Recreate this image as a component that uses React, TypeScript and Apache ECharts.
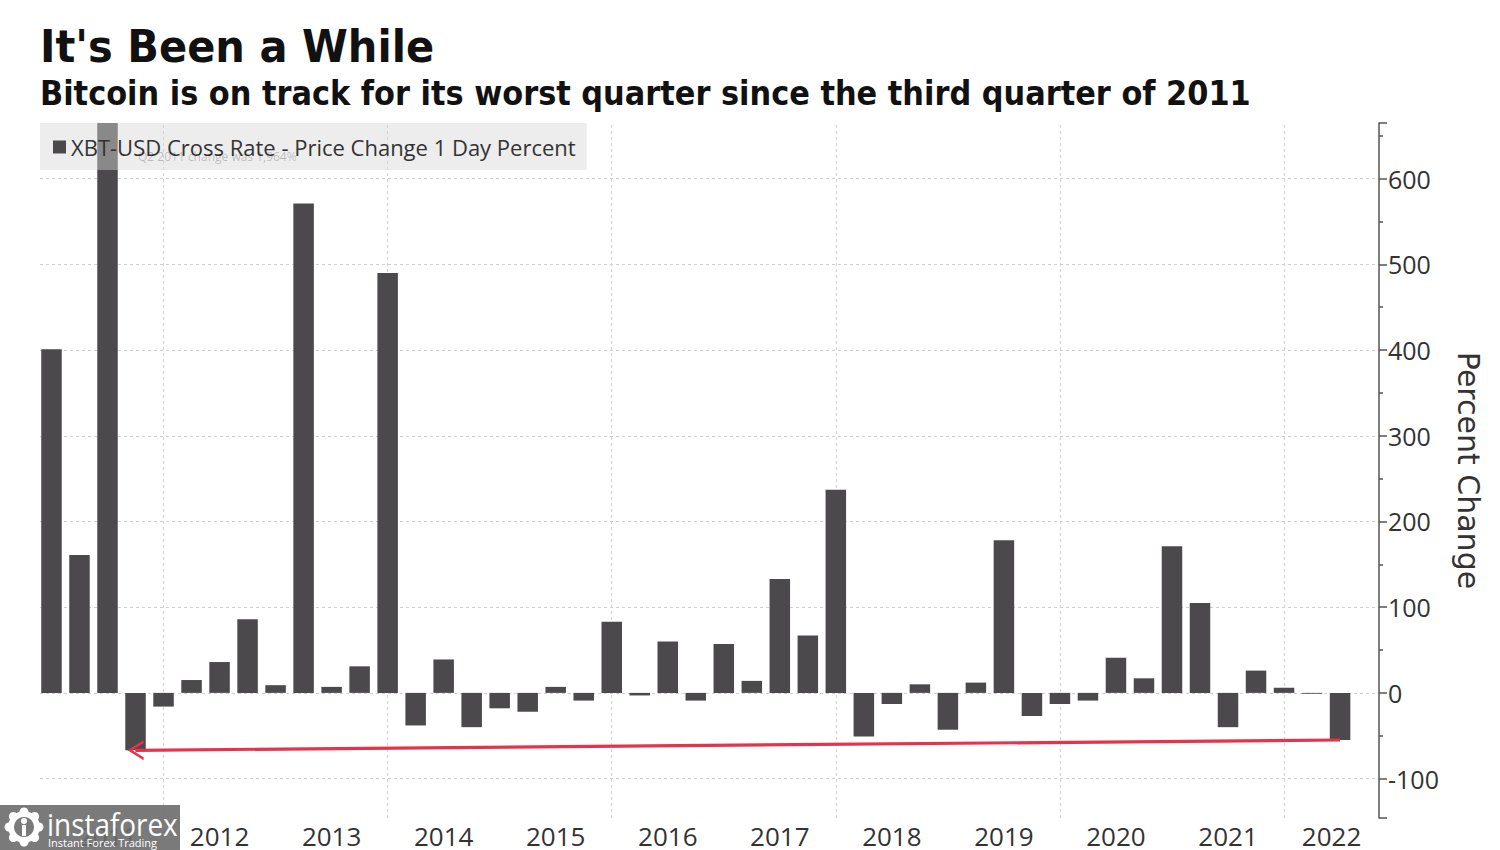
import React, { useEffect, useRef } from "react";
import * as echarts from "echarts";

// Quarter (end) labels, Q4 2010 .. Q2 2022
const quarters = [
  "Q4 2010",
  "Q1 2011", "Q2 2011", "Q3 2011", "Q4 2011",
  "Q1 2012", "Q2 2012", "Q3 2012", "Q4 2012",
  "Q1 2013", "Q2 2013", "Q3 2013", "Q4 2013",
  "Q1 2014", "Q2 2014", "Q3 2014", "Q4 2014",
  "Q1 2015", "Q2 2015", "Q3 2015", "Q4 2015",
  "Q1 2016", "Q2 2016", "Q3 2016", "Q4 2016",
  "Q1 2017", "Q2 2017", "Q3 2017", "Q4 2017",
  "Q1 2018", "Q2 2018", "Q3 2018", "Q4 2018",
  "Q1 2019", "Q2 2019", "Q3 2019", "Q4 2019",
  "Q1 2020", "Q2 2020", "Q3 2020", "Q4 2020",
  "Q1 2021", "Q2 2021", "Q3 2021", "Q4 2021",
  "Q1 2022", "Q2 2022",
];

// Quarterly price change, percent
const pctChange = [
  401,
  161, 1964, -67, -16,
  15, 36, 86, 9,
  571, 7, 31, 490,
  -38, 39, -40, -18,
  -22, 7, -9, 83,
  -3, 60, -9, 57,
  14, 133, 67, 237,
  -51, -13, 10, -43,
  12, 178, -27, -13,
  -9, 41, 17, 171,
  105, -40, 26, 6,
  -1, -55,
];

const yearLabels = ["2011", "2012", "2013", "2014", "2015", "2016", "2017", "2018", "2019", "2020", "2021", "2022"];
const gridYears = ["Q4 2011", "Q4 2013", "Q4 2015", "Q4 2017", "Q4 2019", "Q4 2021"];
const yTicks = [-100, 0, 100, 200, 300, 400, 500, 600];

const seriesName = "XBT-USD Cross Rate - Price Change 1 Day Percent";
const annotation = "Q2 2011 change was 1,964%";
const arrowFrom = "Q2 2022";
const arrowTo = "Q3 2011";

const X_MIN = -0.41;
const X_MAX = 47.39;
const BAR = "#4b494c";

export default function App() {
  const ref = useRef<HTMLDivElement>(null);

  useEffect(() => {
    if (!ref.current) return;
    const chart = echarts.init(ref.current, null, { renderer: "svg" });

    const idx = (q: string) => quarters.indexOf(q);
    // year label positions: middle of the visible span of each year
    const yearPos = yearLabels.map((y) => {
      const s = idx("Q4 " + (Number(y) - 1));
      const start = s === -1 ? X_MIN : Math.max(X_MIN, s);
      const e = idx("Q4 " + y);
      const end = e === -1 ? X_MAX : Math.min(X_MAX, e);
      return (start + end) / 2;
    });
    const labelFor = (v: number) => {
      for (let i = 0; i < yearPos.length; i++) if (Math.abs(yearPos[i] - v) < 1e-6) return yearLabels[i];
      return "";
    };

    const data = pctChange.map((v, i) => [i, v]);

    // gear teeth for watermark
    const teeth: any[] = [];
    for (let k = 0; k < 8; k++) {
      const a = (k * Math.PI) / 4;
      teeth.push({
        type: "circle",
        shape: { cx: 24 + Math.cos(a) * 15, cy: 827 + Math.sin(a) * 15, r: 4.5 },
        style: { fill: "#ffffff" },
        z: 101,
      });
    }

    const option: any = {
      animation: false,
      backgroundColor: "#ffffff",
      grid: { left: 40, right: 121, top: 123, bottom: 32, containLabel: false },
      legend: {
        data: [seriesName],
        left: 40,
        top: 123,
        padding: [13, 11, 12, 13],
        itemWidth: 13,
        itemHeight: 13,
        icon: "rect",
        backgroundColor: "rgba(215,215,215,0.45)",
        selectedMode: false,
        textStyle: { fontFamily: "Open Sans", fontSize: 22, color: "#333" },
      },
      xAxis: {
        type: "value",
        min: X_MIN,
        max: X_MAX,
        axisLine: { show: false },
        axisTick: { show: false },
        splitLine: { show: false },
        axisLabel: {
          customValues: yearPos,
          formatter: (v: number) => labelFor(v),
          fontFamily: "Open Sans",
          fontSize: 26,
          color: "#333",
          margin: 5,
        },
      },
      yAxis: {
        type: "value",
        position: "right",
        min: -146,
        max: 665,
        splitNumber: 8,
        name: "Percent Change",
        nameLocation: "middle",
        nameRotate: -90,
        nameGap: 74,
        nameTextStyle: { fontFamily: "DejaVu Sans", fontSize: 30, color: "#333" },
        axisLine: { show: true, onZero: false, lineStyle: { color: "#555", width: 1.5 } },
        axisTick: { show: true, inside: false, length: 8, lineStyle: { color: "#555", width: 1.5 } },
        minorTick: { show: true, splitNumber: 2, length: 4, lineStyle: { color: "#555", width: 1.5 } },
        axisLabel: {
          showMinLabel: false,
          showMaxLabel: false,
          margin: 9,
          fontFamily: "Open Sans",
          fontSize: 25,
          color: "#333",
          formatter: (v: number) => (yTicks.indexOf(v) >= 0 ? String(v) : ""),
        },
        splitLine: {
          show: true,
          showMinLine: false,
          showMaxLine: false,
          lineStyle: { color: "#cfcfcf", type: [3, 3], width: 1.2 },
        },
      },
      series: [
        {
          name: seriesName,
          type: "bar",
          data,
          barWidth: 20.5,
          z: 2,
          itemStyle: { color: BAR },
          markLine: {
            silent: true,
            z: 1,
            symbol: ["none", "none"],
            label: { show: false },
            lineStyle: { color: "#d6d6d6", type: [3, 3], width: 1.2 },
            data: gridYears.map((q) => ({ xAxis: idx(q) })),
          },
        },
        {
          name: "arrow",
          type: "line",
          data: [],
          markLine: {
            silent: true,
            z: 6,
            symbol: ["none", "none"],
            label: { show: false },
            lineStyle: { color: "#e5334d", width: 3.2, type: "solid" },
            data: [
              [
                { coord: [idx(arrowFrom), pctChange[idx(arrowFrom)]], symbol: "none" },
                {
                  coord: [idx(arrowTo), pctChange[idx(arrowTo)]],
                  symbol: "path://M0,20 L10,0 L20,20 L17,20 L10,6 L3,20 Z",
                  symbolSize: [20, 16],
                },
              ],
            ],
          },
        },
      ],
      graphic: [
        {
          type: "text",
          x: 40,
          y: 47,
          scaleX: 0.945,
          style: { text: "It's Been a While", font: 'bold 44px "DejaVu Sans"', fill: "#111", verticalAlign: "middle" },
        },
        {
          type: "text",
          x: 40,
          y: 94,
          scaleX: 0.922,
          style: {
            text: "Bitcoin is on track for its worst quarter since the third quarter of 2011",
            font: 'bold 33px "DejaVu Sans"',
            fill: "#111",
            verticalAlign: "middle",
          },
        },
        {
          type: "text",
          x: 138,
          y: 156,
          z: 50,
          style: { text: annotation, font: '12px "Open Sans"', fill: "rgba(0,0,0,0.22)", verticalAlign: "middle" },
        },
        {
          type: "rect",
          shape: { x: 0, y: 805, width: 180, height: 45 },
          style: { fill: "rgba(108,108,108,0.9)" },
          z: 100,
        },
        {
          type: "ring",
          shape: { cx: 24, cy: 827, r: 16, r0: 10 },
          style: { fill: "#ffffff" },
          z: 101,
        },
        ...teeth,
        {
          type: "circle",
          shape: { cx: 24, cy: 821, r: 3.2 },
          style: { fill: "#ffffff" },
          z: 101,
        },
        {
          type: "rect",
          shape: { x: 22, y: 825, width: 4, height: 11 },
          style: { fill: "#ffffff" },
          z: 101,
        },
        {
          type: "text",
          x: 47,
          y: 824,
          scaleX: 0.9,
          z: 101,
          style: { text: "instaforex", font: '31px "Open Sans"', fill: "#ffffff", verticalAlign: "middle" },
        },
        {
          type: "text",
          x: 48,
          y: 842,
          z: 101,
          style: { text: "Instant Forex Trading", font: '11px "Open Sans"', fill: "#ffffff", verticalAlign: "middle" },
        },
      ],
    };

    chart.setOption(option);
    return () => chart.dispose();
  }, []);

  return (
    <div
      ref={ref}
      style={{ position: "fixed", left: 0, top: 0, width: 1500, height: 850 }}
    />
  );
}
